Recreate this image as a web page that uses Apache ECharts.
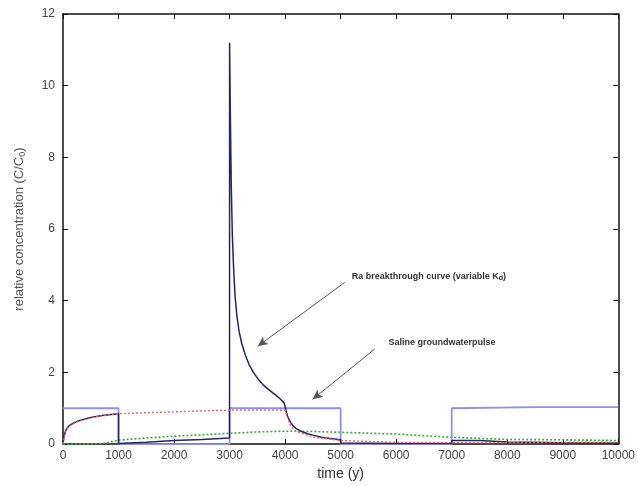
<!DOCTYPE html>
<html><head><meta charset="utf-8">
<script src="https://cdn.jsdelivr.net/npm/echarts@6/dist/echarts.min.js"></script>
<style>html,body{margin:0;padding:0;background:#fff}#c{width:638px;height:486px}</style>
</head><body><div id="c"></div>
<script>
// Saline groundwater pulse (square wave)
const pulseTime = [0, 1000, 1000, 3000, 3000, 5000, 5000, 7000, 7000, 8500, 10000];
const pulseConc = [1.0, 1.0, 0, 0, 1.0, 1.0, 0, 0, 1.0, 1.03, 1.03];

// Ra breakthrough curve (variable Kd)
const raTime = [0, 20, 50, 100, 200, 300, 500, 700, 1000, 1000, 1500, 2000, 2500, 2999,
  3000, 3015, 3030, 3050, 3075, 3100, 3130, 3170, 3220, 3280, 3350, 3430, 3520, 3620, 3720, 3820, 3920, 3980, 4000,
  4020, 4050, 4100, 4150, 4200, 4300, 4400, 4500, 4700, 5000,
  5000, 6000, 7000, 7000, 7500, 8000, 9000, 10000];
const raConc = [0, 0.25, 0.38, 0.5, 0.6, 0.66, 0.74, 0.8, 0.85, 0.02, 0.05, 0.1, 0.13, 0.17,
  11.2, 9.0, 7.2, 5.8, 4.8, 4.1, 3.6, 3.15, 2.8, 2.5, 2.22, 2.0, 1.8, 1.63, 1.5, 1.38, 1.25, 1.15, 1.05,
  0.9, 0.75, 0.6, 0.5, 0.43, 0.35, 0.29, 0.25, 0.18, 0.12,
  0.03, 0.02, 0.02, 0.1, 0.1, 0.06, 0.04, 0.03];

// Red dotted curve
const redTime = [0, 50, 100, 200, 300, 500, 700, 1000, 2000, 3000, 4000, 4050, 4100, 4200, 4500, 5000, 6000, 7000, 8000, 9000, 10000];
const redConc = [0, 0.36, 0.48, 0.58, 0.65, 0.73, 0.79, 0.85, 0.9, 0.95, 0.95, 0.7, 0.5, 0.35, 0.2, 0.1, 0.05, 0.04, 0.04, 0.05, 0.05];

// Green dotted curve
const greenTime = [0, 700, 1000, 1500, 2000, 2500, 3000, 3500, 4000, 4500, 5000, 6000, 7000, 8000, 9000, 10000];
const greenConc = [0, 0.01, 0.11, 0.17, 0.22, 0.26, 0.3, 0.34, 0.36, 0.35, 0.33, 0.28, 0.19, 0.13, 0.12, 0.1];

// Annotations
const noteRa = {text: 'Ra breakthrough curve (variable K', sub: 'd', close: ')', at: [5198, 4.68], from: [5072, 4.51], to: [3507, 2.73]};
const noteSal = {text: 'Saline groundwaterpulse', at: [5863, 2.84], from: [5612, 2.65], to: [4496, 1.25]};

const zip = (a, b) => a.map((v, i) => [v, b[i]]);
const chart = echarts.init(document.getElementById('c'));
const tickLbl = {color: '#444', fontFamily: 'Liberation Sans, Arial', fontSize: 12, formatter: v => String(v)};
const axLine = {onZero: false, lineStyle: {color: '#111', width: 1.5}};
const tick = {inside: true, length: 5, lineStyle: {color: '#111'}};
chart.setOption({
  animation: false,
  grid: {left: 63, top: 14, right: 19, bottom: 41},
  xAxis: [
    {type: 'value', min: 0, max: 10000, interval: 1000, axisLine: axLine, axisTick: tick, splitLine: {show: false},
     axisLabel: Object.assign({margin: 6}, tickLbl),
     name: 'time (y)', nameLocation: 'middle', nameGap: 22,
     nameTextStyle: {fontFamily: 'Liberation Sans, Arial', fontSize: 14, color: '#333'}},
    {type: 'value', min: 0, max: 10000, interval: 1000, position: 'top', axisLine: axLine, axisTick: tick,
     axisLabel: {show: false}, splitLine: {show: false}}
  ],
  yAxis: [
    {type: 'value', min: 0, max: 12, interval: 2, axisLine: axLine, axisTick: tick, splitLine: {show: false},
     axisLabel: Object.assign({margin: 8}, tickLbl),
     name: '{a|relative concentration (C/C}{b|0}{a|)}', nameLocation: 'middle', nameGap: 36,
     nameTextStyle: {rich: {a: {fontFamily: 'Liberation Sans, Arial', fontSize: 13, color: '#555'},
                            b: {fontFamily: 'Liberation Sans, Arial', fontSize: 9, color: '#555', verticalAlign: 'bottom', padding: [6, 0, 0, 0]}}}},
    {type: 'value', min: 0, max: 12, interval: 2, position: 'right', axisLine: axLine, axisTick: tick,
     axisLabel: {show: false}, splitLine: {show: false}}
  ],
  series: [
    {type: 'line', data: zip(greenTime, greenConc), showSymbol: false, silent: true,
     lineStyle: {color: '#3aa83a', width: 1.6, type: [2, 2]}},
    {type: 'line', data: zip(pulseTime, pulseConc), showSymbol: false, silent: true,
     lineStyle: {color: '#8f8ff2', width: 1.8}},
    {type: 'line', data: zip(raTime, raConc), showSymbol: false, silent: true,
     lineStyle: {color: '#25255f', width: 1.5}},
    {type: 'line', data: zip(redTime, redConc), showSymbol: false, silent: true,
     lineStyle: {color: '#e06868', width: 1.4, type: [2, 2]},
     markLine: {silent: true, symbol: ['none', 'arrow'], symbolSize: [7, 10],
       lineStyle: {color: '#555', width: 1, type: 'solid'}, label: {show: false},
       data: [[{coord: noteRa.from}, {coord: noteRa.to}], [{coord: noteSal.from}, {coord: noteSal.to}]]},
     markPoint: {silent: true, symbol: 'circle', symbolSize: 0,
       label: {show: true, position: 'right', distance: 0, color: '#333', fontFamily: 'Liberation Sans, Arial', fontSize: 9, fontWeight: 'bold',
         rich: {s: {fontSize: 7, fontWeight: 'bold', color: '#333', verticalAlign: 'bottom', padding: [4, 0, 0, 0], fontFamily: 'Liberation Sans, Arial'},
                t: {fontSize: 9, fontWeight: 'bold', color: '#333', fontFamily: 'Liberation Sans, Arial'}}},
       data: [
         {coord: noteRa.at, label: {formatter: '{t|' + noteRa.text + '}{s|' + noteRa.sub + '}{t|' + noteRa.close + '}'}},
         {coord: noteSal.at, label: {formatter: '{t|' + noteSal.text + '}'}}
       ]}}
  ]
});
</script></body></html>
